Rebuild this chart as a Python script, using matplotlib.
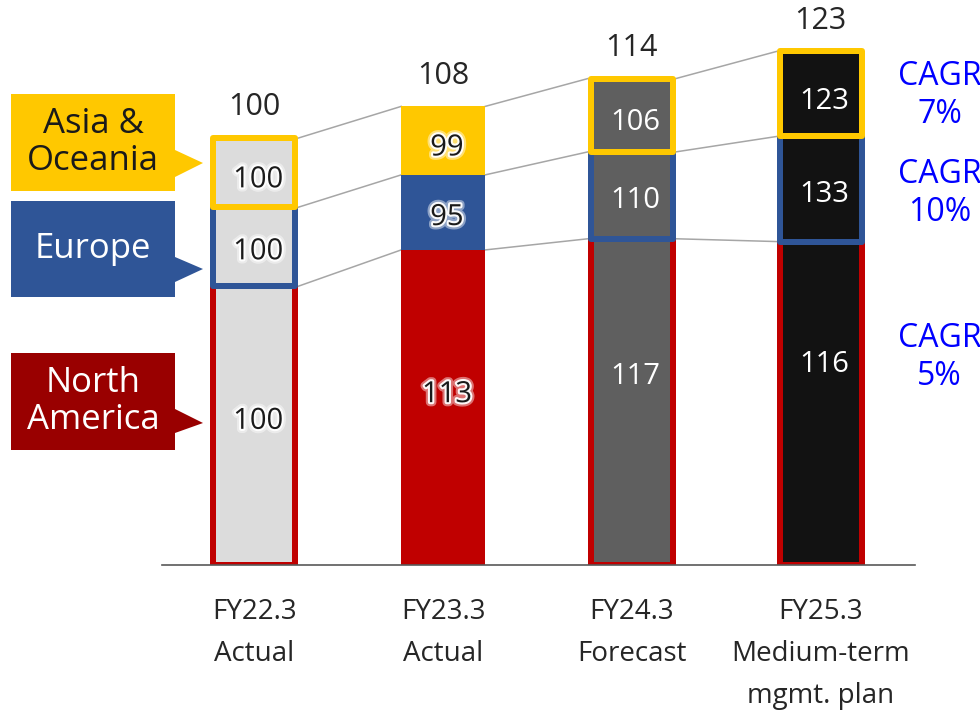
import numpy as np
import matplotlib.pyplot as plt
import matplotlib.patheffects as pe
from matplotlib.patches import Polygon

plt.rcParams['font.family'] = ['Open Sans', 'DejaVu Sans']

#%% data
periods = ['FY22.3\nActual', 'FY23.3\nActual', 'FY24.3\nForecast', 'FY25.3\nMedium-term\nmgmt. plan']
regions = ['North\nAmerica', 'Europe', 'Asia &\nOceania']
base_share = [65.3, 18.5, 16.2]      # FY22.3 split of the 100 index
idx_na = [100, 113, 117, 116]
idx_eu = [100, 95, 110, 133]
idx_asia = [100, 99, 106, 123]
totals = [100, 108, 114, 123]
cagr = ['5%', '10%', '7%']

#%% style
W, H = 980, 710
region_colors = ['#c00000', '#2f5597', '#ffc800']
callout_colors = ['#990000', '#2f5597', '#ffc800']
callout_text = ['white', 'white', '#1a1a1a']
bar_fill = ['#dcdcdc', None, '#5f5f5f', '#121212']
txt = '#262626'
px_per_unit = 4.27
px_per_x = 188.7

fig = plt.figure(figsize=(W/100, H/100), dpi=100)
ax = fig.add_axes([162/W, (H-565)/H, (915-162)/W, 565/H])
ax.set_xlim(-0.49, 3.5)
ax.set_ylim(0, 565/px_per_unit)

x = np.arange(len(periods))
idx_all = np.array([idx_na, idx_eu, idx_asia], dtype=float)
seg = np.array(base_share)[:, None]*idx_all/100
cum = np.cumsum(seg, axis=0)
bottoms = cum - seg

lw_px = 6
w_plain = 84/px_per_x
w_edge = (88-lw_px)/px_per_x
half_out = [88/2/px_per_x if j != 1 else w_plain/2 for j in range(len(x))]

for k in range(3):
    for j in range(len(x)):
        if bar_fill[j] is None:
            ax.bar(x[j], seg[k, j], bottom=bottoms[k, j], width=w_plain,
                   color=region_colors[k], edgecolor='none', zorder=2)
        else:
            ax.bar(x[j], seg[k, j], bottom=bottoms[k, j], width=w_edge,
                   color=bar_fill[j], edgecolor=region_colors[k],
                   linewidth=lw_px*72/100, joinstyle='round', zorder=2+k)

# thin connectors between segment boundaries
for j in range(len(x)-1):
    for k in range(3):
        ax.plot([x[j]+half_out[j], x[j+1]-half_out[j+1]], [cum[k, j], cum[k, j+1]],
                color='#a6a6a6', lw=1.1, zorder=1)

# values inside segments
glow = [pe.withStroke(linewidth=6, foreground='white', alpha=0.45),
        pe.withStroke(linewidth=3, foreground='white', alpha=0.95)]
na_lift = [1, 3, 6, 9]
seg_shift = [0, -1.2, -1.7]
for j in range(len(x)):
    for k in range(3):
        yc = bottoms[k, j] + seg[k, j]/2 + seg_shift[k]
        if k == 0:
            yc += na_lift[j]
        if j < 2:
            ax.text(x[j]+0.02, yc, '%d' % idx_all[k, j], ha='center', va='center',
                    fontsize=21, color='#1a1a1a', path_effects=glow, zorder=10)
        else:
            ax.text(x[j]+0.02, yc, '%d' % idx_all[k, j], ha='center', va='center',
                    fontsize=21, color='white', zorder=10)
    ax.annotate('%d' % totals[j], (x[j], cum[-1, j]), xytext=(0, 22),
                textcoords='offset points', ha='center', va='center',
                fontsize=22, color=txt, annotation_clip=False)

# CAGR notes on the right
cagr_y = [48.5, 87, 110]
for k in range(3):
    ax.text(3.63, cagr_y[k], 'CAGR\n' + cagr[k], ha='center', va='center',
            fontsize=23, color='#0000ff', linespacing=1.2, clip_on=False)

ax.set_xticks(x)
ax.set_xticklabels(periods, fontsize=20, color=txt, va='top')
for lbl in ax.get_xticklabels():
    lbl.set_linespacing(1.65)
ax.tick_params(axis='x', length=0, pad=24)
ax.set_yticks([])
for s in ['left', 'right', 'top']:
    ax.spines[s].set_visible(False)
ax.spines['bottom'].set_color('#595959')
ax.spines['bottom'].set_linewidth(1.2)
ax.spines['bottom'].set_zorder(20)

# region callouts (pixel layout, from top of figure)
boxes = [(353, 450, 409, 423, 433), (201, 297, 257, 269, 282), (94, 191, 150, 163, 177)]
for k in range(3):
    top, bot, t0, tip, t1 = boxes[k]
    pts = [(11, top), (175, top), (175, t0), (203, tip), (175, t1), (175, bot), (11, bot)]
    pts = [(px/W, 1-py/H) for px, py in pts]
    fig.patches.append(Polygon(pts, closed=True, transform=fig.transFigure,
                               facecolor=callout_colors[k], edgecolor='none'))
    fig.text(93/W, 1-(top+bot)/2/H, regions[k], ha='center', va='center',
             fontsize=25, color=callout_text[k], linespacing=1.12)

plt.savefig('out.png', dpi=100)
